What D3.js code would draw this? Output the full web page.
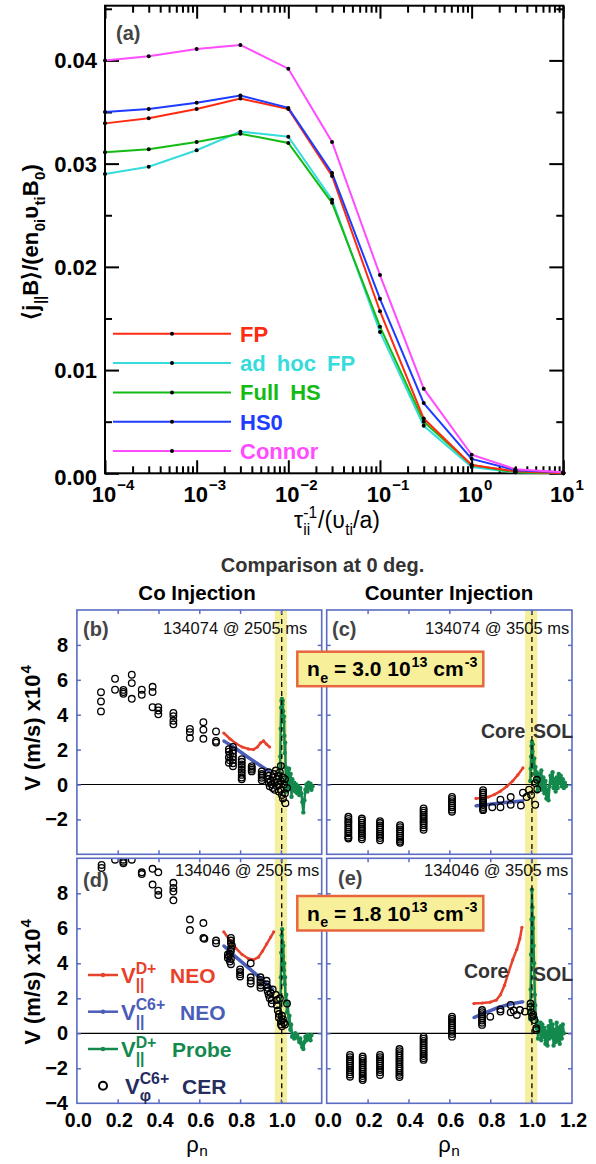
<!DOCTYPE html>
<html><head><meta charset="utf-8">
<script src="https://cdn.jsdelivr.net/npm/d3@7/dist/d3.min.js"></script>
<style>body{margin:0;background:#fff}svg{display:block}text{font-family:"Liberation Sans",Arial,Helvetica,sans-serif}</style>
</head><body><svg id="c" width="596" height="1164"></svg>
<script>
// ---------- Panel (a) data ----------
const collX = [1e-4, 3e-4, 1e-3, 3e-3, 1e-2, 3e-2, 1e-1, 3e-1, 1, 3, 10];
const seriesNames = ["FP", "ad hoc FP", "Full HS", "HS0", "Connor"];
const valFP     = [0.0339, 0.0344, 0.0353, 0.0363, 0.0353, 0.0288, 0.0157, 0.0053, 0.0008, 0.0002, 0.0000];
const valAdHoc  = [0.0290, 0.0297, 0.0313, 0.0331, 0.0326, 0.0265, 0.0137, 0.0046, 0.0006, 0.0001, 0.0000];
const valFullHS = [0.0311, 0.0314, 0.0321, 0.0329, 0.0320, 0.0262, 0.0142, 0.0050, 0.0008, 0.0001, 0.0000];
const valHS0    = [0.0350, 0.0353, 0.0359, 0.0366, 0.0354, 0.0291, 0.0169, 0.0068, 0.0014, 0.0003, 0.0001];
const valConnor = [0.0400, 0.0404, 0.0411, 0.0415, 0.0392, 0.0321, 0.0192, 0.0082, 0.0018, 0.0004, 0.0001];
const yTicksA = [0, 0.01, 0.02, 0.03, 0.04];
const yTickLabelsA = ["0.00", "0.01", "0.02", "0.03", "0.04"];
const xTicksA = [1e-4, 1e-3, 1e-2, 1e-1, 1, 10];
const xTickExpA = ["\u22124", "\u22123", "\u22122", "\u22121", "0", "1"];

// ---------- Lower panels data ([rho, V/1e4]) ----------
const rhoTickLabels = ["0.0", "0.2", "0.4", "0.6", "0.8", "1.0", "1.2"];
const vTickValues = [-4, -2, 0, 2, 4, 6, 8];

// (b) Co injection 134074 @ 2505 ms
const neoD_b = [[0.72,2.95],[0.75,2.62],[0.78,2.35],[0.81,2.15],[0.84,2.04],[0.865,2.0],[0.885,2.15],[0.90,2.38],[0.915,2.5],[0.93,2.3],[0.945,2.15]];
const neoC_b = [[0.72,2.5],[0.78,2.05],[0.84,1.55],[0.90,1.08],[0.94,0.78]];
const probe_b = [[0.995,0.3],[0.997,1.6],[0.999,3.2],[1.001,4.4],[1.003,4.8],[1.005,4.9],[1.007,4.6],[1.009,4.8],[1.011,4.2],[1.013,3.6],[1.015,3.9],[1.017,2.8],[1.019,1.8],[1.021,2.4],[1.023,1.0],[1.025,0.4],[1.028,-0.4],[1.031,0.6],[1.034,-0.2],[1.037,0.9],[1.04,0.9],[1.044,-0.2],[1.048,0.6],[1.052,-0.7],[1.056,0.3],[1.06,-0.3],[1.065,0.1],[1.07,-0.4],[1.075,0.0],[1.08,-0.5],[1.085,-0.1],[1.09,-0.6],[1.095,-0.2],[1.10,-0.5],[1.105,-1.0],[1.11,-1.6],[1.115,-0.9],[1.12,-0.3],[1.125,0.0],[1.13,-0.4],[1.135,0.1],[1.14,-0.2],[1.145,0.05],[1.15,-0.3],[1.155,-0.1]];
const cer_b = [[0.118,5.29],[0.118,4.76],[0.118,4.19],[0.187,6.06],[0.187,5.43],[0.228,5.42],[0.228,5.3],[0.228,5.2],
  [0.269,6.29],[0.269,5.81],[0.269,4.91],[0.318,5.43],[0.318,5.14],[0.371,5.6],[0.371,5.3],[0.371,4.43],
  [0.399,4.43],[0.399,4.24],[0.399,4.02],[0.473,4.1],[0.473,3.92],[0.473,3.65],[0.473,3.45],
  [0.554,3.19],[0.554,3.0],[0.554,2.67],[0.62,3.57],[0.62,3.14],[0.62,2.62],[0.682,3.04],[0.682,2.5],[0.682,2.4],
  [0.745,2.02],[0.745,1.88],[0.75,1.72],[0.745,1.55],[0.75,1.38],[0.745,1.25],
  [0.765,2.15],[0.765,1.95],[0.765,1.78],[0.765,1.6],[0.765,1.42],[0.765,1.22],[0.765,1.05],
  [0.808,1.45],[0.808,1.3],[0.808,1.15],[0.808,1.0],[0.808,0.85],[0.808,0.7],[0.808,0.55],[0.808,0.4],[0.808,0.3],
  [0.857,1.05],[0.857,0.95],[0.857,0.85],[0.857,0.75],
  [0.906,0.75],[0.906,0.6],[0.906,0.5],[0.906,0.38],[0.906,0.25],
  [0.94,0.7],[0.94,0.5],[0.94,0.3],[0.94,0.1],[0.945,-0.1],[0.95,0.2],[0.955,0.0],[0.96,0.4],[0.96,-0.2],[0.965,0.6],
  [0.97,0.1],[0.97,-0.3],[0.975,0.8],[0.98,0.3],[0.98,-0.1],[0.985,0.5],[0.99,0.0],[0.99,-0.4],[0.995,0.7],
  [1.0,1.07],[1.0,0.2],[1.0,-0.3],[1.005,-0.6],[1.01,0.4],[1.01,-0.8],[1.015,0.0],[1.02,-0.5],[1.02,0.3],[1.022,-1.07],[1.03,-0.2]];

// (c) Counter injection 134074 @ 3505 ms
const neoD_c = [[0.73,-0.8],[0.76,-0.78],[0.79,-0.72],[0.82,-0.58],[0.85,-0.38],[0.88,-0.12],[0.91,0.2],[0.935,0.55],[0.96,0.95]];
const neoC_c = [[0.73,-1.22],[0.78,-1.16],[0.84,-1.07],[0.90,-1.0],[0.96,-0.95]];
const probe_c = [[0.996,0.2],[0.998,0.9],[1.0,1.6],[1.002,2.2],[1.004,2.45],[1.006,1.9],[1.008,2.3],[1.01,1.4],[1.012,1.0],[1.015,1.5],[1.018,0.6],[1.021,1.0],[1.024,0.2],[1.027,0.7],[1.03,-0.4],[1.033,0.4],[1.037,-0.2],[1.04,0.6],[1.045,0.0],[1.05,0.8],[1.055,-0.3],[1.06,0.4],[1.065,-0.5],[1.07,0.2],[1.075,-0.8],[1.08,-0.3],[1.085,-0.9],[1.09,-0.1],[1.095,0.5],[1.10,0.1],[1.105,0.7],[1.11,-0.2],[1.115,0.3],[1.12,-0.4],[1.125,0.4],[1.13,-0.2],[1.135,0.6],[1.14,0.1],[1.145,0.5],[1.15,-0.1],[1.155,0.3],[1.16,-0.2],[1.165,0.1],[1.17,-0.1]];
const cerCols_c = [
  [0.106, [-1.85,-1.97,-2.1,-2.2,-2.33,-2.46,-2.57,-2.7,-2.8,-2.93,-3.04,-3.1]],
  [0.172, [-1.95,-2.06,-2.19,-2.3,-2.43,-2.55,-2.66,-2.79,-2.9,-3.03,-3.14]],
  [0.261, [-2.1,-2.21,-2.34,-2.45,-2.58,-2.7,-2.83,-2.94,-3.07,-3.2]],
  [0.359, [-2.33,-2.44,-2.57,-2.68,-2.8,-2.93,-3.05,-3.16,-3.27,-3.34]],
  [0.474, [-1.37,-1.5,-1.61,-1.74,-1.85,-1.97,-2.1,-2.21,-2.33,-2.46,-2.6]],
  [0.613, [-0.71,-0.83,-0.96,-1.07,-1.2,-1.31,-1.44,-1.56]],
  [0.765, [-0.33,-0.46,-0.57,-0.7,-0.81,-0.94,-1.05,-1.18,-1.29,-1.4,-1.47]]];
const cerPts_c = [[0.81,-1.3],[0.85,-0.87],[0.85,-1.3],[0.90,-0.72],[0.90,-1.16],[0.95,-1.2],[0.96,-0.47],[0.978,-0.72],[0.99,-0.3],[1.0,-0.6],[1.02,0.08],[1.028,0.27],[1.02,-1.16],[1.03,-0.27]];

// (d) Co injection 134046 @ 2505 ms
const neoD_d = [[0.72,5.8],[0.75,5.3],[0.78,4.85],[0.81,4.5],[0.84,4.27],[0.865,4.2],[0.89,4.35],[0.91,4.7],[0.93,5.1],[0.95,5.5],[0.965,5.8]];
const neoC_d = [[0.72,5.0],[0.78,4.35],[0.84,3.75],[0.90,3.15],[0.96,2.5]];
const probe_d = [[0.996,0.6],[0.998,1.8],[1.0,3.2],[1.002,4.6],[1.004,5.6],[1.006,5.95],[1.008,5.2],[1.01,4.4],[1.012,5.0],[1.014,3.6],[1.016,4.0],[1.018,2.8],[1.02,3.2],[1.023,1.8],[1.026,2.2],[1.03,1.2],[1.034,1.7],[1.038,0.6],[1.042,1.0],[1.046,0.2],[1.05,0.5],[1.055,-0.2],[1.06,-0.1],[1.065,-0.3],[1.07,0.0],[1.075,-0.2],[1.08,-0.1],[1.085,-0.3],[1.09,-0.5],[1.095,-0.3],[1.10,-0.6],[1.105,-0.8],[1.11,-0.9],[1.115,-0.5],[1.12,-0.2],[1.125,-0.4],[1.13,-0.1],[1.135,-0.3],[1.14,-0.2],[1.145,-0.4],[1.15,-0.1]];
const cer_d = [[0.121,9.62],[0.121,9.45],[0.187,9.92],[0.228,9.92],[0.228,9.72],[0.228,9.8],[0.269,9.92],
  [0.318,9.2],[0.318,9.1],[0.371,9.4],[0.371,8.5],[0.399,9.2],[0.399,8.15],[0.399,7.9],
  [0.473,8.6],[0.473,8.3],[0.473,8.1],[0.473,7.6],[0.554,6.5],[0.554,5.9],[0.62,6.3],[0.62,5.45],[0.625,5.4],
  [0.682,5.3],[0.682,5.15],
  [0.755,5.45],[0.755,5.3],[0.755,5.15],[0.76,5.0],[0.755,4.85],[0.755,4.7],[0.75,4.55],[0.745,4.4],[0.755,4.25],[0.75,4.1],[0.755,3.95],[0.74,4.5],[0.74,4.3],
  [0.80,3.65],[0.80,3.5],[0.80,3.38],[0.80,3.25],
  [0.852,4.0],[0.852,3.2],[0.852,3.0],[0.852,2.85],
  [0.90,3.2],[0.90,3.05],[0.90,2.9],[0.90,2.75],[0.90,2.6],
  [0.93,3.0],[0.93,2.8],[0.935,2.6],[0.935,2.4],[0.94,2.2],[0.945,2.0],[0.95,2.3],[0.955,1.9],[0.955,1.7],[0.96,2.5],
  [0.975,2.2],[0.98,1.9],[0.98,1.6],[0.985,1.3],[0.99,1.1],[0.99,0.9],[0.995,2.0],[1.0,0.7],[1.0,0.5],[1.005,1.0],[1.005,0.4],[1.01,0.8],[1.015,0.6],[1.02,0.5],[1.03,1.7]];

// (e) Counter injection 134046 @ 3505 ms
const neoD_e = [[0.72,1.7],[0.76,1.73],[0.80,1.78],[0.83,1.9],[0.85,2.2],[0.87,2.75],[0.89,3.5],[0.91,4.2],[0.93,4.8],[0.945,5.4],[0.955,6.05]];
const neoC_e = [[0.72,0.9],[0.78,1.2],[0.84,1.48],[0.90,1.68],[0.96,1.8]];
const probe_e = [[0.996,0.8],[0.998,2.5],[1.0,4.5],[1.002,6.5],[1.004,8.2],[1.006,7.2],[1.008,6.0],[1.01,6.6],[1.012,5.0],[1.014,4.0],[1.016,3.2],[1.018,2.2],[1.02,1.6],[1.023,0.9],[1.026,0.3],[1.03,0.7],[1.034,-0.3],[1.038,0.4],[1.042,0.0],[1.046,0.6],[1.05,-0.4],[1.055,0.5],[1.06,-0.2],[1.065,0.3],[1.07,-0.6],[1.075,0.1],[1.08,-0.7],[1.085,0.4],[1.09,-0.3],[1.095,0.7],[1.10,-0.2],[1.105,0.5],[1.11,-0.7],[1.115,0.2],[1.12,-0.5],[1.125,0.6],[1.13,-0.4],[1.135,0.3],[1.14,-0.6],[1.145,0.4],[1.15,-0.3],[1.155,0.5],[1.16,0.0]];
const cerCols_e = [
  [0.114, [-1.24,-1.36,-1.49,-1.6,-1.73,-1.85,-1.97,-2.1,-2.22,-2.35,-2.48]],
  [0.176, [-1.33,-1.45,-1.58,-1.7,-1.82,-1.95,-2.07,-2.2,-2.32,-2.44,-2.57,-2.67]],
  [0.261, [-1.24,-1.36,-1.48,-1.6,-1.73,-1.85,-1.98,-2.1,-2.23,-2.38]],
  [0.356, [-0.9,-1.02,-1.14,-1.27,-1.39,-1.52,-1.64,-1.76,-1.89,-2.01,-2.14,-2.26,-2.38,-2.5]],
  [0.474, [-0.19,-0.31,-0.44,-0.56,-0.68,-0.81,-0.93,-1.05,-1.18,-1.3,-1.42,-1.52]],
  [0.613, [0.95,0.83,0.7,0.58,0.46,0.33,0.21,0.09,-0.04,-0.19]],
  [0.76,  [1.33,1.21,1.09,0.97,0.85,0.73,0.6,0.48]]];
const cerPts_e = [[0.80,0.95],[0.85,1.37],[0.85,1.24],[0.90,1.62],[0.90,1.2],[0.915,1.3],[0.93,1.05],[0.945,1.33],[0.97,1.24],[0.997,1.7],[0.997,1.5],[1.0,1.2],[1.01,1.05],[1.005,0.95],[1.015,0.76],[1.025,0.29],[1.025,0.19]];

const legendLabels = ["NEO", "NEO", "Probe", "CER"];

// ---------- helpers ----------
const svg = d3.select("#c");
function rich(parent, x, y, parts, o) {
  const size = o.size || 20, weight = o.weight || "bold", fill = o.fill || "#000", anchor = o.anchor || "start";
  const outer = parent.append("g").attr("transform", `translate(${x},${y})` + (o.rotate ? ` rotate(${o.rotate})` : ""));
  const g = outer.append("g");
  let cx = 0;
  const ss = size * (o.ss || 0.68);
  const subDy = size * (o.subDy || 0.3);
  function add(t, dx, dy, fs) {
    const el = g.append("text").attr("x", dx).attr("y", dy).attr("font-size", fs)
      .attr("font-weight", weight).attr("fill", fill).attr("xml:space", "preserve").style("white-space", "pre").text(t);
    return el.node().getComputedTextLength();
  }
  parts.forEach(p => {
    if (typeof p === "string") cx += add(p, cx, 0, size);
    else if (p.sup !== undefined && p.sub !== undefined) {
      const w1 = add(p.sup, cx, -size * 0.42, ss), w2 = add(p.sub, cx, size * 0.32, ss);
      cx += Math.max(w1, w2) + 1;
    } else if (p.sup !== undefined) cx += add(p.sup, cx + 1, -size * 0.42, ss) + 1;
    else if (p.sub !== undefined) cx += add(p.sub, cx + 0.5, subDy, ss) + 0.5;
  });
  const off = anchor === "middle" ? -cx / 2 : anchor === "end" ? -cx : 0;
  g.attr("transform", `translate(${off},0)`);
  return outer;
}
function plainText(x, y, t, size, weight, fill, anchor) {
  return svg.append("text").attr("x", x).attr("y", y).attr("font-size", size).attr("font-weight", weight)
    .attr("fill", fill).attr("text-anchor", anchor || "start").text(t);
}

// ---------- Panel (a) ----------
const A = {l: 105, r: 563.3, t: 5.7, b: 473.3};
const xA = d3.scaleLog().domain([1e-4, 10]).range([A.l, A.r]);
const yA = d3.scaleLinear().domain([0, 0.0453]).range([A.b, A.t]);
const minorX = xA.ticks().filter(v => !xTicksA.some(m => Math.abs(m - v) / m < 1e-6));
const minorY = [0.005, 0.015, 0.025, 0.035, 0.045].filter(v => v < 0.0453);
function styleAxis(g, w) { g.select(".domain").remove(); g.selectAll("line").attr("stroke", "#000").attr("stroke-width", w || 2); }
const gA = svg.append("g");
[[d3.axisBottom, A.b], [d3.axisTop, A.t]].forEach(([f, pos]) => {
  gA.append("g").attr("transform", `translate(0,${pos})`).call(f(xA).tickValues(xTicksA).tickSize(-13).tickFormat("")).call(styleAxis);
  gA.append("g").attr("transform", `translate(0,${pos})`).call(f(xA).tickValues(minorX).tickSize(-7).tickFormat("")).call(styleAxis);
});
[[d3.axisLeft, A.l], [d3.axisRight, A.r]].forEach(([f, pos]) => {
  gA.append("g").attr("transform", `translate(${pos},0)`).call(f(yA).tickValues(yTicksA).tickSize(-14).tickFormat("")).call(styleAxis);
  gA.append("g").attr("transform", `translate(${pos},0)`).call(f(yA).tickValues(minorY).tickSize(-7).tickFormat("")).call(styleAxis);
});
gA.append("rect").attr("x", A.l).attr("y", A.t).attr("width", A.r - A.l).attr("height", A.b - A.t)
  .attr("fill", "none").attr("stroke", "#000").attr("stroke-width", 2);

const seriesA = [
  {name: seriesNames[1], vals: valAdHoc, color: "#36dcdc"},
  {name: seriesNames[2], vals: valFullHS, color: "#14bb14"},
  {name: seriesNames[0], vals: valFP, color: "#ff2a10"},
  {name: seriesNames[3], vals: valHS0, color: "#1e3cff"},
  {name: seriesNames[4], vals: valConnor, color: "#ff4cff"}];
const lineA = d3.line().x(d => xA(d[0])).y(d => yA(d[1]));
seriesA.forEach(s => {
  const pts = collX.map((x, i) => [x, s.vals[i]]);
  gA.append("path").attr("d", lineA(pts)).attr("fill", "none").attr("stroke", s.color).attr("stroke-width", 2);
});
seriesA.forEach(s => {
  gA.selectAll(null).data(collX.map((x, i) => [x, s.vals[i]])).enter().append("circle")
    .attr("cx", d => xA(d[0])).attr("cy", d => yA(d[1])).attr("r", 2).attr("fill", "#000");
});
yTicksA.forEach((v, i) => plainText(97, yA(v) + 8 + (v === 0 ? 4 : 0), yTickLabelsA[i], 22, "bold", "#000", "end"));
xTicksA.forEach((v, i) => {
  const t = plainText(xA(v) - 1, 502, "10", 22, "bold", "#000", "middle");
  const w = t.node().getComputedTextLength();
  plainText(xA(v) - 1 + w / 2 + 1, 490, xTickExpA[i], 15, "bold", "#000", "start");
});
rich(svg, 337, 528, ["\u03c4", {sup: "-1", sub: "ii"}, "/(\u03c5", {sub: "ti"}, "/a)"], {size: 23, weight: "normal", anchor: "middle"});
rich(svg, 38, 242, ["\u27e8j", {sub: "||"}, "B\u27e9/(en", {sub: "0i"}, "\u03c5", {sub: "ti"}, "B", {sub: "0"}, ")"], {size: 22, weight: "bold", anchor: "middle", rotate: -90});
plainText(116, 40, "(a)", 20, "bold", "#444");
const legOrder = [
  {name: seriesNames[0], color: "#ff2a10"}, {name: seriesNames[1], color: "#36dcdc"},
  {name: seriesNames[2], color: "#14bb14"}, {name: seriesNames[3], color: "#1e3cff"}, {name: seriesNames[4], color: "#ff4cff"}];
legOrder.forEach((s, i) => {
  const y = 333.8 + i * 29.3;
  gA.append("line").attr("x1", 113).attr("x2", 231).attr("y1", y).attr("y2", y).attr("stroke", s.color).attr("stroke-width", 2);
  gA.append("circle").attr("cx", 172).attr("cy", y).attr("r", 2).attr("fill", "#000");
  plainText(240, y + 8, s.name, 22, "bold", s.color).style("word-spacing", "5px");
});

// ---------- Lower panels ----------
plainText(322.5, 572, "Comparison at 0 deg.", 20, "bold", "#333", "middle");
plainText(197, 600, "Co Injection", 20.5, "bold", "#000", "middle");
plainText(449, 600, "Counter Injection", 20.5, "bold", "#000", "middle");

const frameColor = "#5a6cc4";
const cRed = "#e8412c", cBlue = "#4a5db8", cGreen = "#14894e";
const flatCols = cols => cols.flatMap(([r, vs]) => vs.map(v => [r, v]));

function panel(P) {
  const x = d3.scaleLinear().domain([0, 1.2]).range([P.l, P.r]);
  const y = d3.scaleLinear().domain([-4, 10]).range([P.b, P.t]);
  const cid = "clip" + P.id;
  svg.append("clipPath").attr("id", cid).append("rect").attr("x", P.l).attr("y", P.t).attr("width", P.r - P.l).attr("height", P.b - P.t);
  const g = svg.append("g").attr("clip-path", `url(#${cid})`);
  g.append("rect").attr("x", x(0.97)).attr("y", P.t).attr("width", x(1.03) - x(0.97)).attr("height", P.b - P.t).attr("fill", "#f6ef9e");
  g.append("line").attr("x1", P.l).attr("x2", P.r).attr("y1", y(0)).attr("y2", y(0)).attr("stroke", "#000").attr("stroke-width", 1.2);
  const ln = d3.line().x(d => x(d[0])).y(d => y(d[1]));
  [[P.neoD, cRed, 2.5, 1.6], [P.neoC, cBlue, 3.5, 1.6], [P.probe, cGreen, 2.5, 2.2]].forEach(([data, col, w, r]) => {
    g.append("path").attr("d", ln(data)).attr("fill", "none").attr("stroke", col).attr("stroke-width", w).attr("stroke-linejoin", "round");
    g.selectAll(null).data(data).enter().append("circle").attr("cx", d => x(d[0])).attr("cy", d => y(d[1])).attr("r", r).attr("fill", col);
  });
  g.selectAll(null).data(P.cer).enter().append("circle").attr("cx", d => x(d[0])).attr("cy", d => y(d[1]))
    .attr("r", 3.3).attr("fill", "none").attr("stroke", "#000").attr("stroke-width", 1.3);
  g.append("line").attr("x1", x(1.004)).attr("x2", x(1.004)).attr("y1", P.t).attr("y2", P.b)
    .attr("stroke", "#000").attr("stroke-width", 1.3).attr("stroke-dasharray", "5,4");
  const sa = gg => { gg.select(".domain").remove(); gg.selectAll("line").attr("stroke", frameColor).attr("stroke-width", 1.5); };
  const rt = [0.2, 0.4, 0.6, 0.8, 1.0], vt = vTickValues.filter(v => v > -4);
  svg.append("g").attr("transform", `translate(0,${P.t})`).call(d3.axisTop(x).tickValues(rt).tickSize(-4).tickFormat("")).call(sa);
  svg.append("g").attr("transform", `translate(0,${P.b})`).call(d3.axisBottom(x).tickValues(rt).tickSize(-4).tickFormat("")).call(sa);
  svg.append("g").attr("transform", `translate(${P.l},0)`).call(d3.axisLeft(y).tickValues(vt).tickSize(-4).tickFormat("")).call(sa);
  svg.append("g").attr("transform", `translate(${P.r},0)`).call(d3.axisRight(y).tickValues(vt).tickSize(-4).tickFormat("")).call(sa);
  svg.append("rect").attr("x", P.l).attr("y", P.t).attr("width", P.r - P.l).attr("height", P.b - P.t)
    .attr("fill", "none").attr("stroke", frameColor).attr("stroke-width", 1.6);
  if (P.yLabels) P.yLabels.forEach(v => plainText(68, y(v) + 7, v < 0 ? "\u2212" + Math.abs(v) : String(v), 20, "bold", "#000", "end"));
  if (P.xLabels) P.xLabels.forEach(i => plainText(x(i * 0.2) + 1.5, 1127, rhoTickLabels[i], 19.5, "bold", "#000", "middle"));
  plainText(P.lblX, P.lblY, P.lbl, 20, "bold", "#444");
  plainText(P.shotX, P.shotY, P.shot, 16.5, "normal", "#111");
  return {x, y};
}
panel({id: "b", l: 76.9, r: 321.7, t: 610, b: 854.3, neoD: neoD_b, neoC: neoC_b, probe: probe_b, cer: cer_b,
  yLabels: [8, 6, 4, 2, 0, -2], lbl: "(b)", lblX: 83, lblY: 636, shot: "134074 @ 2505 ms", shotX: 163, shotY: 634});
panel({id: "c", l: 326.7, r: 572, t: 610, b: 854.3, neoD: neoD_c, neoC: neoC_c, probe: probe_c,
  cer: flatCols(cerCols_c).concat(cerPts_c), lbl: "(c)", lblX: 332, lblY: 636, shot: "134074 @ 3505 ms", shotX: 425, shotY: 634});
panel({id: "d", l: 76.9, r: 321.7, t: 858.3, b: 1103.3, neoD: neoD_d, neoC: neoC_d, probe: probe_d, cer: cer_d,
  yLabels: [8, 6, 4, 2, 0, -2, -4], xLabels: [0, 1, 2, 3, 4, 5], lbl: "(d)", lblX: 83, lblY: 887, shot: "134046 @ 2505 ms", shotX: 175, shotY: 876});
panel({id: "e", l: 326.7, r: 572, t: 858.3, b: 1103.3, neoD: neoD_e, neoC: neoC_e, probe: probe_e,
  cer: flatCols(cerCols_e).concat(cerPts_e), xLabels: [0, 1, 2, 3, 4, 5, 6], lbl: "(e)", lblX: 338, lblY: 885, shot: "134046 @ 3505 ms", shotX: 424, shotY: 876});

rich(svg, 40, 728, ["V (m/s) x10", {sup: "4"}], {size: 22, weight: "bold", anchor: "middle", rotate: -90});
rich(svg, 40, 982, ["V (m/s) x10", {sup: "4"}], {size: 22, weight: "bold", anchor: "middle", rotate: -90});
rich(svg, 197, 1152, ["\u03c1", {sub: "n"}], {size: 22, weight: "normal", anchor: "middle", ss: 0.7, subDy: 0.2});
rich(svg, 449, 1152, ["\u03c1", {sub: "n"}], {size: 22, weight: "normal", anchor: "middle", ss: 0.7, subDy: 0.2});

[[651.7, "3.0"], [896, "1.8"]].forEach(([top, val]) => {
  svg.append("rect").attr("x", 297.3).attr("y", top).attr("width", 186).attr("height", 34.5)
    .attr("fill", "#f8ef9a").attr("stroke", "#e8663f").attr("stroke-width", 2.5);
  rich(svg, 307, top + 24.5, ["n", {sub: "e"}, " = " + val + " 10", {sup: "13"}, " cm", {sup: "-3"}], {size: 21, weight: "bold"});
});

plainText(481, 738, "Core", 19.5, "bold", "#333");
plainText(533, 738, "SOL", 19.5, "bold", "#333");
plainText(464, 978, "Core", 19.5, "bold", "#333");
plainText(533, 981, "SOL", 19.5, "bold", "#333");

const legD = [
  {y: 975, col: cRed, sup: "D+", sub: "||", lab: legendLabels[0], lx: 170, tc: cRed},
  {y: 1011.7, col: cBlue, sup: "C6+", sub: "||", lab: legendLabels[1], lx: 180, tc: cBlue},
  {y: 1049, col: cGreen, sup: "D+", sub: "||", lab: legendLabels[2], lx: 172, tc: cGreen},
  {y: 1085.7, col: null, sup: "C6+", sub: "\u03c6", lab: legendLabels[3], lx: 182, tc: "#262c5e"}];
legD.forEach(e => {
  if (e.col) {
    svg.append("line").attr("x1", 88).attr("x2", 118).attr("y1", e.y).attr("y2", e.y).attr("stroke", e.col).attr("stroke-width", 2.5);
    svg.append("circle").attr("cx", 103).attr("cy", e.y).attr("r", 2.2).attr("fill", e.col);
  } else {
    svg.append("circle").attr("cx", 103).attr("cy", e.y).attr("r", 4).attr("fill", "none").attr("stroke", "#000").attr("stroke-width", 2);
  }
  rich(svg, e.col ? 121 : 125, e.y + 8, ["V", {sup: e.sup, sub: e.sub}], {size: 22, weight: "bold", fill: e.tc, ss: 0.72});
  plainText(e.lx, e.y + 8, e.lab, 21, "bold", e.tc);
});
</script></body></html>
